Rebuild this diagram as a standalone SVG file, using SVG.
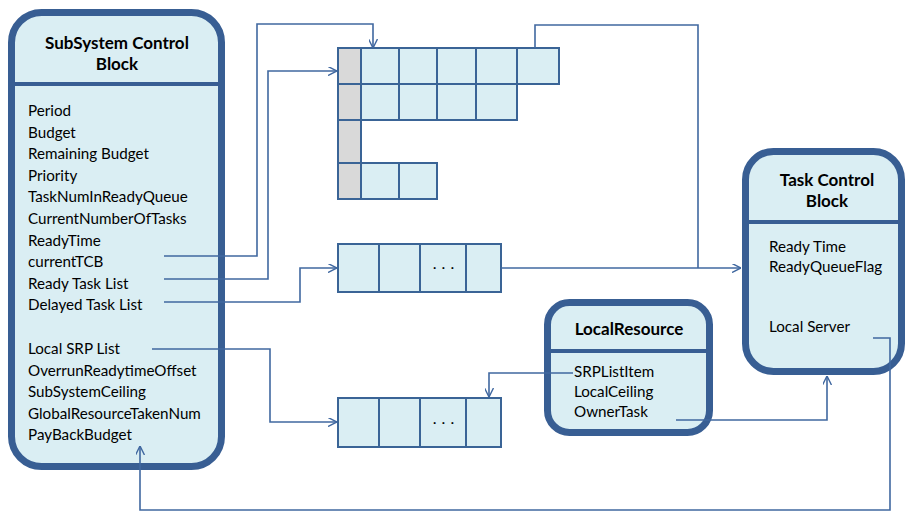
<svg xmlns="http://www.w3.org/2000/svg" width="906" height="512" viewBox="0 0 906 512">
<defs>
<style>
.blk{fill:#DAEEF3;stroke:#385E93;stroke-width:7}
.div{stroke:#385E93;stroke-width:4}
.cell{fill:#DAEEF3;stroke:#3A6496;stroke-width:2}
.gray{fill:#D9D9D9;stroke:#3A6496;stroke-width:2}
.t{font-family:Lato,"Open Sans",sans-serif;font-size:15.2px;fill:#000}
.h{font-family:Lato,"Open Sans",sans-serif;font-size:17px;font-weight:bold;fill:#000;text-anchor:middle}
.c{fill:none;stroke:#4068A0;stroke-width:1.6}
.dots{font-family:Lato,sans-serif;font-size:16px;fill:#000;text-anchor:middle;letter-spacing:5px}
</style>
<marker id="ah" viewBox="0 0 10 10" refX="10" refY="5" markerWidth="9" markerHeight="9" markerUnits="userSpaceOnUse" orient="auto">
<path d="M0,0 L10,5 L0,10" fill="none" stroke="#4068A0" stroke-width="1.6"/>
</marker>
</defs>
<rect width="906" height="512" fill="#fff"/>

<g id="subsystem-control-block">
<rect class="blk" x="11.5" y="12.5" width="210" height="454" rx="30"/>
<line class="div" x1="11.5" y1="84" x2="221.5" y2="84"/>
<text class="h" x="117" y="49">SubSystem Control</text>
<text class="h" x="117" y="70">Block</text>
<text class="t" x="28" y="116">Period</text>
<text class="t" x="28" y="137.6">Budget</text>
<text class="t" x="28" y="159.2">Remaining Budget</text>
<text class="t" x="28" y="180.8">Priority</text>
<text class="t" x="28" y="202.4">TaskNumInReadyQueue</text>
<text class="t" x="28" y="224">CurrentNumberOfTasks</text>
<text class="t" x="28" y="245.6">ReadyTime</text>
<text class="t" x="28" y="267.2">currentTCB</text>
<text class="t" x="28" y="288.8">Ready Task List</text>
<text class="t" x="28" y="310.4">Delayed Task List</text>
<text class="t" x="28" y="354">Local SRP List</text>
<text class="t" x="28" y="375.6">OverrunReadytimeOffset</text>
<text class="t" x="28" y="397.2">SubSystemCeiling</text>
<text class="t" x="28" y="418.8">GlobalResourceTakenNum</text>
<text class="t" x="28" y="440.4">PayBackBudget</text>
</g>

<g id="ready-queue-grid">
<rect class="gray" x="338" y="48" width="23" height="36"/>
<rect class="gray" x="338" y="84" width="23" height="36"/>
<rect class="gray" x="338" y="120" width="23" height="43"/>
<rect class="gray" x="338" y="163" width="23" height="36"/>
<rect class="cell" x="361" y="48" width="38" height="36"/>
<rect class="cell" x="399" y="48" width="38" height="36"/>
<rect class="cell" x="437" y="48" width="39" height="36"/>
<rect class="cell" x="476" y="48" width="41" height="36"/>
<rect class="cell" x="517" y="48" width="42" height="36"/>
<rect class="cell" x="361" y="84" width="38" height="36"/>
<rect class="cell" x="399" y="84" width="38" height="36"/>
<rect class="cell" x="437" y="84" width="39" height="36"/>
<rect class="cell" x="476" y="84" width="41" height="36"/>
<rect class="cell" x="361" y="163" width="38" height="36"/>
<rect class="cell" x="399" y="163" width="38" height="36"/>
</g>

<g id="delayed-list">
<rect class="cell" x="338" y="244" width="41" height="48"/>
<rect class="cell" x="379" y="244" width="41" height="48"/>
<rect class="cell" x="420" y="244" width="46" height="48"/>
<rect class="cell" x="466" y="244" width="35" height="48"/>
<text class="dots" x="446" y="269">...</text>
</g>

<g id="srp-list">
<rect class="cell" x="338" y="398" width="41" height="49"/>
<rect class="cell" x="379" y="398" width="41" height="49"/>
<rect class="cell" x="420" y="398" width="46" height="49"/>
<rect class="cell" x="466" y="398" width="35" height="49"/>
<text class="dots" x="446" y="424">...</text>
</g>

<g id="task-control-block">
<rect class="blk" x="745.5" y="151.5" width="156" height="220" rx="28"/>
<line class="div" x1="745.5" y1="222" x2="901.5" y2="222"/>
<text class="h" x="827" y="186">Task Control</text>
<text class="h" x="827" y="207">Block</text>
<text class="t" x="769" y="252">Ready Time</text>
<text class="t" x="769" y="272">ReadyQueueFlag</text>
<text class="t" x="769" y="332">Local Server</text>
</g>

<g id="local-resource">
<rect class="blk" x="547.5" y="302.5" width="162" height="130" rx="22"/>
<line class="div" x1="547.5" y1="351" x2="709.5" y2="351"/>
<text class="h" x="629" y="335">LocalResource</text>
<text class="t" x="574" y="377">SRPListItem</text>
<text class="t" x="574" y="397">LocalCeiling</text>
<text class="t" x="574" y="417">OwnerTask</text>
</g>

<g id="connectors">
<path class="c" d="M164,256 H257 V24 H373 V48" marker-end="url(#ah)"/>
<path class="c" d="M164,279 H268 V71 H337" marker-end="url(#ah)"/>
<path class="c" d="M164,302 H300 V268 H337" marker-end="url(#ah)"/>
<path class="c" d="M152,349 H270 V422 H337" marker-end="url(#ah)"/>
<path class="c" d="M501,268 H741" marker-end="url(#ah)"/>
<path class="c" d="M535,48 V25 H698 V268"/>
<path class="c" d="M573,373 H489 V397" marker-end="url(#ah)"/>
<path class="c" d="M676,420 H827 V376" marker-end="url(#ah)"/>
<path class="c" d="M873,338 H890 V510 H140 V446" marker-end="url(#ah)"/>
</g>
</svg>
